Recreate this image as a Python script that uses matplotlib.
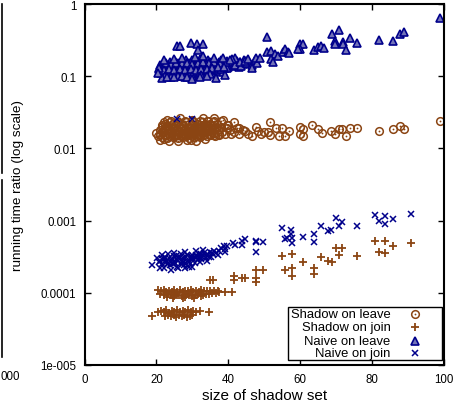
import matplotlib
matplotlib.use("Agg")
import matplotlib.pyplot as plt
from matplotlib.lines import Line2D
from matplotlib.patches import Rectangle

plt.rcParams["font.family"] = ["Liberation Sans", "DejaVu Sans"]

BROWN = "#8b4513"
NAVY = "#00008b"

# size of shadow set vs running time ratio, one pair of lists per series
naive_leave_x = [
    21.0, 21.5, 22.3, 23.0, 23.8, 24.5, 25.2, 26.0, 26.8, 27.5, 28.2, 29.0, 29.8, 30.5, 31.3, 32.0, 32.8,
    33.5, 34.3, 35.0, 35.8, 36.5, 37.3, 38.0, 38.8, 39.5, 40.3, 41.0, 41.8, 42.5, 43.3, 44.0, 45.0, 46.0,
    20.8, 21.8, 22.5, 23.3, 24.0, 24.8, 25.5, 26.3, 27.0, 27.8, 28.5, 29.3, 30.0, 30.8, 31.5, 32.3, 33.0,
    33.8, 34.5, 35.3, 36.0, 36.8, 37.5, 38.3, 39.0, 40.0, 41.5, 43.0,
    21.2, 22.0, 22.8, 23.5, 24.3, 25.0, 25.8, 26.5, 27.3, 28.0, 28.8, 29.5, 30.3, 31.0, 31.8, 32.5, 33.3,
    34.0, 35.0, 36.0, 37.0, 38.5,
    22.0, 23.5, 25.0, 26.5, 28.0, 29.5, 31.0, 32.5, 34.0, 35.5, 37.0, 38.5,
    21.5, 23.0, 24.5, 26.0, 27.5, 29.0, 30.5, 32.0, 33.5, 35.0, 36.5, 38.0, 39.5,
    22.8, 24.0, 25.5, 27.0, 28.5, 30.0, 31.5, 33.0, 34.5, 36.0, 37.8, 39.3,
    22.0, 23.5, 25.0, 26.5, 28.0, 29.5, 31.0, 32.5, 34.0, 35.5, 37.0, 38.8,
    22.5, 24.0, 26.0, 28.0, 30.0, 32.5, 35.0,
    42.0, 43.5, 45.0, 46.5, 47.5, 44.5, 42.0, 48.0,
    21.5, 23.0, 25.0, 27.0, 28.5, 30.0, 32.0, 34.0, 36.5, 39.0,
    22.0, 25.0, 27.0, 30.8, 33.0, 36.0, 38.5, 41.0, 20.6, 20.5,
    40.4, 43.2, 44.6, 45.5, 47.6, 48.8, 46.7, 50.7, 52.0, 53.1, 53.9, 55.2, 55.7, 56.6, 52.0, 52.5, 57.0,
    25.6, 26.7, 29.6, 31.3, 33.1, 31.7, 50.8, 60.0, 60.8, 60.0, 59.3, 63.8, 65.0, 65.8, 66.7,
    68.8, 70.8, 69.8, 69.8, 71.9, 71.9, 73.8, 75.9, 72.8, 81.8, 85.8, 87.8, 88.8, 98.9,
]
naive_leave_y = [
    0.145, 0.135, 0.150, 0.142, 0.155, 0.148, 0.160, 0.152, 0.158, 0.147, 0.165, 0.150, 0.170, 0.155, 0.162, 0.175, 0.150,
    0.160, 0.168, 0.155, 0.162, 0.150, 0.158, 0.165, 0.152, 0.160, 0.148, 0.158, 0.150, 0.162, 0.155, 0.148, 0.160, 0.150,
    0.125, 0.120, 0.128, 0.118, 0.130, 0.122, 0.127, 0.119, 0.131, 0.123, 0.128, 0.120, 0.130, 0.124, 0.133, 0.121, 0.128,
    0.135, 0.125, 0.138, 0.128, 0.135, 0.125, 0.140, 0.130, 0.136, 0.140, 0.135,
    0.110, 0.105, 0.112, 0.106, 0.110, 0.104, 0.109, 0.103, 0.108, 0.104, 0.110, 0.105, 0.109, 0.106, 0.112, 0.107, 0.114,
    0.110, 0.116, 0.112, 0.118, 0.115,
    0.140, 0.137, 0.143, 0.139, 0.142, 0.138, 0.145, 0.140, 0.146, 0.141, 0.146, 0.143,
    0.116, 0.113, 0.117, 0.114, 0.116, 0.113, 0.117, 0.115, 0.120, 0.122, 0.124, 0.126, 0.128,
    0.152, 0.149, 0.153, 0.150, 0.154, 0.149, 0.152, 0.155, 0.151, 0.156, 0.152, 0.155,
    0.123, 0.125, 0.121, 0.124, 0.122, 0.126, 0.123, 0.127, 0.124, 0.130, 0.132, 0.134,
    0.101, 0.099, 0.101, 0.099, 0.101, 0.103, 0.106,
    0.145, 0.140, 0.150, 0.145, 0.165, 0.170, 0.180, 0.150,
    0.094, 0.099, 0.097, 0.100, 0.096, 0.092, 0.098, 0.101, 0.095, 0.103,
    0.170, 0.175, 0.180, 0.185, 0.190, 0.180, 0.178, 0.172, 0.130, 0.112,
    0.170, 0.155, 0.163, 0.172, 0.180, 0.180, 0.130, 0.218, 0.224, 0.200, 0.190, 0.218, 0.237, 0.213, 0.172, 0.158, 0.210,
    0.26, 0.26, 0.29, 0.28, 0.28, 0.23, 0.35, 0.28, 0.28, 0.24, 0.24, 0.23, 0.25, 0.26, 0.245,
    0.39, 0.43, 0.31, 0.28, 0.30, 0.28, 0.34, 0.29, 0.23, 0.32, 0.31, 0.38, 0.41, 0.64,
]

shadow_leave_x = [
    21.5, 22.3, 23.0, 23.8, 24.5, 25.3, 26.0, 26.8, 27.5, 28.3, 29.0, 29.8, 30.5, 31.3, 32.0, 32.8, 33.5,
    34.3, 35.0, 35.8, 36.8, 38.0, 39.5,
    21.0, 21.8, 22.5, 23.3, 24.0, 24.8, 25.5, 26.3, 27.0, 27.8, 28.5, 29.3, 30.0, 30.8, 31.5, 32.3, 33.0,
    33.8, 34.5, 35.3, 36.0, 37.0, 38.3, 39.5, 40.5, 41.5, 43.0,
    21.5, 23.0, 24.5, 26.0, 27.5, 29.0, 30.5, 32.0, 33.5, 35.0, 36.5, 38.0,
    21.0, 22.5, 24.0, 25.5, 27.0, 28.5, 30.0, 31.5, 33.0, 34.5, 36.0, 37.5, 39.0,
    22.0, 24.0, 26.0, 28.0, 30.0, 32.0, 34.0, 36.0,
    22.0, 23.5, 25.0, 26.5, 28.0, 29.5, 31.0, 32.5, 34.0, 35.5, 37.5,
    21.0, 22.8, 24.3, 25.8, 27.3, 28.8, 30.3, 31.8, 33.3, 34.8, 36.0,
    20.0, 20.5, 21.5, 22.3, 23.0, 23.8, 24.5, 25.3, 26.0, 26.8, 27.5, 28.3, 29.0, 29.8, 30.5, 31.3, 32.0,
    33.0, 34.0, 35.0, 36.3, 37.5,
    21.0, 23.5, 26.0, 28.5, 31.0, 33.5, 22.0, 29.5,
    23.0, 26.5, 30.0, 33.0, 36.0, 38.5,
    40.0, 40.8, 41.5, 42.3, 43.0, 44.0, 44.6, 45.5, 46.7, 47.6, 48.3, 49.0, 50.0,
    51.7, 51.0, 51.5, 53.4, 54.8, 54.1, 56.9, 55.7, 59.9, 60.8, 59.9, 60.8, 63.4, 65.0, 66.2,
    68.7, 69.6, 70.8, 71.7, 72.8, 73.8, 75.9, 81.8, 85.8, 87.8, 88.8, 98.8,
]
shadow_leave_y = [
    0.021, 0.022, 0.021, 0.023, 0.022, 0.021, 0.023, 0.022, 0.021, 0.023, 0.022, 0.021, 0.023, 0.022, 0.021, 0.023, 0.022,
    0.024, 0.022, 0.023, 0.022, 0.024, 0.021,
    0.018, 0.017, 0.019, 0.018, 0.017, 0.019, 0.018, 0.017, 0.019, 0.018, 0.017, 0.019, 0.018, 0.017, 0.019, 0.018, 0.017,
    0.019, 0.018, 0.017, 0.019, 0.018, 0.017, 0.019, 0.018, 0.017, 0.019,
    0.0198, 0.0202, 0.0196, 0.0200, 0.0203, 0.0197, 0.0201, 0.0199, 0.0204, 0.0198, 0.0201, 0.0199,
    0.0160, 0.0158, 0.0162, 0.0157, 0.0161, 0.0159, 0.0163, 0.0158, 0.0161, 0.0160, 0.0163, 0.0160, 0.0158,
    0.0235, 0.0238, 0.0234, 0.0240, 0.0236, 0.0240, 0.0236, 0.0240,
    0.0188, 0.0190, 0.0186, 0.0191, 0.0187, 0.0190, 0.0186, 0.0191, 0.0187, 0.0190, 0.0188,
    0.0155, 0.0154, 0.0156, 0.0153, 0.0156, 0.0154, 0.0156, 0.0154, 0.0156, 0.0155, 0.0152,
    0.0165, 0.0150, 0.0145, 0.0152, 0.0140, 0.0148, 0.0143, 0.0150, 0.0140, 0.0147, 0.0142, 0.0150, 0.0141, 0.0148,
    0.0143, 0.0150, 0.0145, 0.0152, 0.0147, 0.0153, 0.0148, 0.0155,
    0.0130, 0.0128, 0.0125, 0.0130, 0.0127, 0.0133, 0.0135, 0.0132,
    0.025, 0.026, 0.025, 0.026, 0.026, 0.025,
    0.021, 0.016, 0.023, 0.019, 0.016, 0.018, 0.0175, 0.016, 0.015, 0.0198, 0.0175, 0.016, 0.017,
    0.0232, 0.0168, 0.0152, 0.0194, 0.0194, 0.0150, 0.0175, 0.0150, 0.0198, 0.0188, 0.0160, 0.0150, 0.0210, 0.0183, 0.0165,
    0.0175, 0.0158, 0.0183, 0.0188, 0.0148, 0.0190, 0.0190, 0.0175, 0.0183, 0.0205, 0.0183, 0.0238,
]

naive_join_x = [
    20.2, 20.8, 21.5, 21.5, 22.3, 22.8, 23.3, 23.8, 24.3, 24.8, 25.3, 25.8, 26.3, 26.8, 27.3, 27.8, 28.3,
    28.8, 29.3, 29.8, 30.3, 30.8, 31.3, 31.8, 32.3, 32.8, 33.3, 33.8, 34.3, 34.8, 35.3, 35.8, 36.5, 37.0,
    22.0, 24.0, 26.0, 28.0, 30.0, 25.0, 28.0, 31.0, 33.0, 21.0, 23.0, 25.5, 27.5, 29.5, 32.0, 34.0,
    21.0, 22.5, 24.0, 25.5, 27.0, 28.5, 30.0, 31.5, 33.0, 34.5, 36.0, 24.5, 27.0, 29.0, 31.0,
    22.0, 23.5, 25.0, 26.5, 28.0, 29.5, 31.0, 32.5, 34.0, 35.5, 37.5, 39.0, 21.5, 23.0, 26.0, 29.0,
    32.0, 38.0, 39.5,
    18.7, 25.6, 29.8,
    38.8, 39.0, 41.3, 41.8, 43.8, 44.6, 43.7, 47.6, 47.6, 47.6, 49.7, 54.8, 55.7, 56.2, 57.5, 57.5,
    57.8, 57.8, 60.8, 63.8, 63.8, 65.9, 67.7, 68.7, 69.9, 70.8, 71.7, 75.8, 80.9, 81.9, 83.7, 83.7,
    85.8, 90.9,
]
naive_join_y = [
    0.00030, 0.00027, 0.00033, 0.00025, 0.00030, 0.00027, 0.00034, 0.00024, 0.00029, 0.00032, 0.00026, 0.00023,
    0.00030, 0.00034, 0.00027, 0.00024, 0.00031, 0.00028, 0.00025, 0.00033, 0.00029, 0.00026, 0.00032, 0.00035,
    0.00029, 0.00031, 0.00036, 0.00030, 0.00033, 0.00037, 0.00031, 0.00034, 0.00036, 0.00033,
    0.00022, 0.00021, 0.00022, 0.00022, 0.00023, 0.00036, 0.00037, 0.00038, 0.00039, 0.00022, 0.00028, 0.00029,
    0.00030, 0.00029, 0.00027, 0.00028,
    0.00028, 0.00031, 0.00027, 0.00032, 0.00028, 0.00033, 0.00031, 0.00029, 0.00033, 0.00031, 0.00038, 0.00025,
    0.00025, 0.00027, 0.00030,
    0.00029, 0.00030, 0.00027, 0.00031, 0.00026, 0.00031, 0.00033, 0.00034, 0.00035, 0.00036, 0.00038, 0.00040,
    0.00029, 0.00025, 0.00028, 0.00023, 0.00031, 0.00042, 0.00045,
    0.00024, 0.0258, 0.0258,
    0.00044, 0.00037, 0.00049, 0.00046, 0.00053, 0.00055, 0.00046, 0.00053, 0.00050, 0.00037, 0.00051, 0.00079,
    0.00055, 0.00057, 0.00074, 0.00065, 0.00057, 0.00049, 0.00059, 0.00065, 0.00050, 0.00085, 0.00071, 0.00073,
    0.00107, 0.00083, 0.00096, 0.00083, 0.00121, 0.00100, 0.00115, 0.00090, 0.00104, 0.00125,
]

shadow_join_x = [
    20.5, 21.3, 22.0, 22.8, 23.5, 24.3, 25.0, 25.8, 26.5, 27.3, 28.0, 28.8, 29.5, 30.3, 31.0, 31.8, 32.5,
    33.3, 34.0, 35.0, 36.0, 37.0, 39.0, 40.9,
    22.0, 23.0, 24.0, 25.0, 26.0, 27.0, 28.0, 29.0, 30.0, 31.0, 32.5, 24.5, 27.5, 30.5,
    21.0, 23.3, 25.5, 28.5, 31.5, 33.8, 36.5, 35.5, 37.5, 33.0, 34.5,
    20.5, 21.3, 22.0, 22.8, 23.5, 24.3, 25.0, 25.8, 26.5, 27.3, 28.0, 28.8, 29.5, 30.3, 31.0, 32.0, 34.7,
    22.5, 23.3, 24.0, 24.8, 25.5, 26.3, 27.0, 27.8, 28.5, 29.3, 30.0, 18.7,
    34.9, 35.8, 41.5, 41.5, 43.7, 44.6, 47.6, 47.6, 47.6, 49.7, 54.8, 55.7, 57.8, 57.8, 57.8,
    60.8, 63.8, 63.8, 65.7, 67.7, 68.8, 69.9, 71.7, 70.8, 75.8, 80.9, 83.7, 81.9, 83.7, 85.8, 90.9,
]
shadow_join_y = [
    0.000108, 0.000105, 0.000109, 0.000104, 0.000107, 0.000102, 0.000108, 0.000104, 0.000110, 0.000103, 0.000107,
    0.000105, 0.000109, 0.000103, 0.000107, 0.000104, 0.000108, 0.000105, 0.000107, 0.000106, 0.000107, 0.000105,
    0.000104, 0.000102,
    0.000092, 0.000088, 0.000093, 0.000089, 0.000094, 0.000090, 0.000087, 0.000092, 0.000089, 0.000093, 0.000090,
    0.000085, 0.000084, 0.000086,
    0.000097, 0.000096, 0.000097, 0.000096, 0.000097, 0.000097, 0.000098, 0.000100, 0.000104, 0.000093, 0.000095,
    0.000055, 0.000056, 0.000054, 0.000057, 0.000053, 0.000056, 0.000055, 0.000057, 0.000054, 0.000056, 0.000055,
    0.000057, 0.000054, 0.000056, 0.000055, 0.000056, 0.000055,
    0.000048, 0.000050, 0.000047, 0.000049, 0.000046, 0.000050, 0.000047, 0.000049, 0.000046, 0.000048, 0.000050,
    0.000048,
    0.00015, 0.00015, 0.00017, 0.00015, 0.00016, 0.00016, 0.00016, 0.00014, 0.00021, 0.00021, 0.00032, 0.00021,
    0.00034, 0.00022, 0.00017,
    0.00027, 0.00022, 0.00018, 0.00031, 0.00028, 0.00027, 0.00042, 0.00042, 0.00033, 0.00032, 0.00053, 0.00053,
    0.00037, 0.00036, 0.00044, 0.00049,
]

legend_labels = ["Shadow on leave", "Shadow on join", "Naive on leave", "Naive on join"]
y_ticks = [1e-5, 1e-4, 1e-3, 1e-2, 1e-1, 1]
y_tick_labels = ["1e-005", "0.0001", "0.001", "0.01", "0.1", "1"]
x_ticks = [0, 20, 40, 60, 80, 100]

fig = plt.figure(figsize=(4.54, 4.06), dpi=100)
ax = fig.add_axes([84.5 / 454, 40 / 406, 359.5 / 454, 361 / 406])

styles = [
    (shadow_leave_x, shadow_leave_y, dict(marker="o", ms=5.5, mfc="none", mec=BROWN, mew=1.1)),
    (shadow_join_x, shadow_join_y, dict(marker="+", ms=5.2, mec=BROWN, mew=1.3)),
    (naive_leave_x, naive_leave_y, dict(marker="^", ms=5.3, mfc="#7474b8", mec=NAVY, mew=1.2)),
    (naive_join_x, naive_join_y, dict(marker="x", ms=4.4, mec=NAVY, mew=1.1)),
]
for xs, ys, st in styles:
    ax.plot(xs, ys, ls="none", **st)
# centre dots of the circle markers
ax.plot(shadow_leave_x, shadow_leave_y, ls="none", marker="o", ms=1.3, mfc=BROWN, mec=BROWN, mew=0)

ax.set_yscale("log")
ax.set_xlim(0, 100)
ax.set_ylim(1e-5, 1)
ax.set_yticks(y_ticks)
ax.set_yticklabels(y_tick_labels)
ax.yaxis.set_minor_locator(matplotlib.ticker.NullLocator())
ax.set_xticks(x_ticks)
ax.tick_params(which="both", direction="in", length=4, width=1.0, labelsize=8.3,
               top=True, right=True, pad=6)
for sp in ax.spines.values():
    sp.set_linewidth(1.5)

ax.set_xlabel("size of shadow set", fontsize=11, labelpad=2)
ax.set_ylabel("running time ratio (log scale)", fontsize=9.7, labelpad=12)

# gnuplot-style key: text right-aligned, sample to the right
ax.add_patch(Rectangle((0.565, 0.015), 0.43, 0.147, transform=ax.transAxes,
                       fill=True, fc="white", ec="black", lw=1.0, zorder=5))
rows_y = [0.140, 0.104, 0.067, 0.032]
for (xs, ys, st), label, ry in zip(styles, legend_labels, rows_y):
    ax.text(0.851, ry, label, transform=ax.transAxes, ha="right", va="center",
            fontsize=9.4, zorder=6)
    ax.add_line(Line2D([0.918], [ry], transform=ax.transAxes, ls="none", zorder=6, **st))
ax.add_line(Line2D([0.918], [rows_y[0]], transform=ax.transAxes, ls="none", marker="o",
                   ms=1.3, mfc=BROWN, mec=BROWN, mew=0, zorder=6))

# edge of the neighbouring panel
fig.add_artist(Line2D([2 / 454, 2 / 454], [1 - 5 / 406, 1 - 174 / 406], color="black", lw=1.2))
fig.add_artist(Line2D([2 / 454, 2 / 454], [1 - 181 / 406, 1 - 358 / 406], color="black", lw=1.2))
fig.text(0.5 / 454, 1 - 377 / 406, "000", ha="left", va="center", fontsize=8.3)

fig.savefig("out.png", dpi=100)
